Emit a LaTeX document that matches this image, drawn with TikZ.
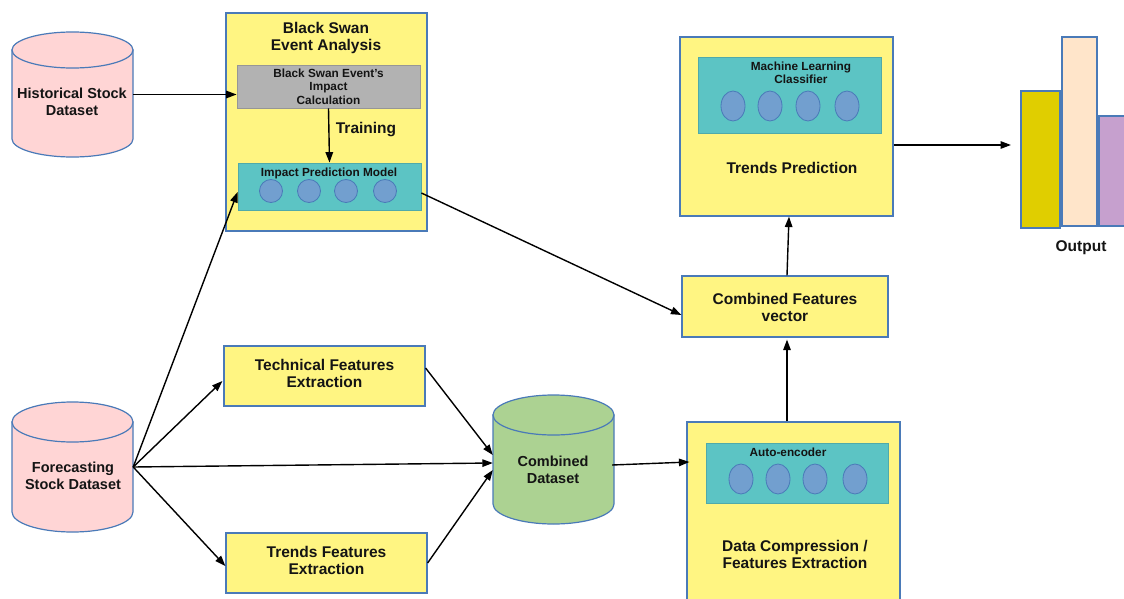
\documentclass[tikz,border=0pt]{standalone}
\usepackage{fontspec}
\setmainfont{Liberation Sans}
\usetikzlibrary{arrows.meta,calc}
\definecolor{boxy}{RGB}{255,245,130}
\definecolor{bord}{RGB}{74,122,184}
\definecolor{tealc}{RGB}{92,196,196}
\definecolor{tealb}{RGB}{80,170,170}
\definecolor{circf}{RGB}{114,159,207}
\definecolor{grayf}{RGB}{178,178,178}
\definecolor{grayb}{RGB}{150,150,150}
\definecolor{pinkf}{RGB}{255,213,213}
\definecolor{greenf}{RGB}{172,210,146}
\definecolor{bary}{RGB}{224,206,0}
\definecolor{barp}{RGB}{255,229,202}
\definecolor{barv}{RGB}{198,160,206}
\definecolor{txt}{RGB}{20,20,20}
\tikzset{
  x=1pt,y=-1pt,
  ybox/.style={draw=bord,line width=1.2pt,fill=boxy,inner sep=0pt},
  tealbox/.style={draw=tealb,line width=0.8pt,fill=tealc,inner sep=0pt},
  graybox/.style={draw=grayb,line width=0.8pt,fill=grayf,inner sep=0pt},
  ghost/.style={inner sep=0pt},
  circ/.style={draw=bord,line width=0.8pt,fill=circf},
  big/.style={text=txt,font=\bfseries\fontsize{15.5}{17}\selectfont,align=center,inner sep=0pt},
  mid/.style={text=txt,font=\bfseries\fontsize{14.5}{16.5}\selectfont,align=center,inner sep=0pt},
  small/.style={text=txt,font=\bfseries\fontsize{11.8}{13.5}\selectfont,align=center,inner sep=0pt},
  arr/.style={line width=1.4pt,-{Triangle[length=10.5pt,width=7.5pt]}},
  cyl/.style={draw=bord,line width=1.2pt},
}
\begin{document}
\begin{tikzpicture}
\clip (0,0) rectangle (1124,599);
\fill[white] (0,0) rectangle (1124,599);

% ---------- cylinders ----------
% historical
\filldraw[cyl,fill=pinkf] (12,50) -- (12,139) arc[start angle=180,end angle=0,x radius=60.5,y radius=18] -- (133,50) -- cycle;
\filldraw[cyl,fill=pinkf] (72.5,50) ellipse[x radius=60.5,y radius=18];
\node[ghost,minimum width=121,minimum height=125] (hist) at (72.5,94.5) {};
\node[mid] (histt) at (72,102) {Historical Stock\\Dataset};
% forecasting
\filldraw[cyl,fill=pinkf] (12,422) -- (12,512) arc[start angle=180,end angle=0,x radius=60.5,y radius=20] -- (133,422) -- cycle;
\filldraw[cyl,fill=pinkf] (72.5,422) ellipse[x radius=60.5,y radius=20];
\node[ghost,minimum width=121,minimum height=130] (fore) at (72.5,467) {};
\node[mid] (foret) at (73,476) {Forecasting\\Stock Dataset};
% combined dataset
\filldraw[cyl,fill=greenf] (493,415) -- (493,504) arc[start angle=180,end angle=0,x radius=60.5,y radius=20] -- (614,415) -- cycle;
\filldraw[cyl,fill=greenf] (553.5,415) ellipse[x radius=60.5,y radius=20];
\node[ghost,minimum width=121,minimum height=129] (comb) at (553.5,459.5) {};
\node[mid] (combt) at (553,470) {Combined\\Dataset};

% ---------- black swan box ----------
\node[ybox,minimum width=201,minimum height=218] (bsa) at (326.5,122) {};
\node[big] (bsat) at (326,37.5) {Black Swan\\Event Analysis};
\node[graybox,minimum width=183,minimum height=43] (gray) at (328.5,86.5) {};
\node[small] (grayt) at (328.5,86.5) {Black Swan Event's\\Impact\\Calculation};
\node[tealbox,minimum width=183,minimum height=47] (ipm) at (329.5,186.5) {};
\node[small] (ipmt) at (329,173) {Impact Prediction Model};
\foreach \cx [count=\i] in {271,309,346,385}
  \node[circ,circle,minimum size=23,inner sep=0pt] (ipmc\i) at (\cx,191) {};
\node[big] (train) at (366,130) {Training};

% ---------- trends prediction box ----------
\node[ybox,minimum width=213,minimum height=179] (tp) at (786.5,126.5) {};
\node[tealbox,minimum width=183,minimum height=76] (mlc) at (789.5,95) {};
\node[small] (mlct) at (801,73) {Machine Learning\\Classifier};
\foreach \cx [count=\i] in {733,770,808,847}
  \filldraw[circ] (\cx,106) ellipse[x radius=12,y radius=15];
\node[big] (tpt) at (792,168) {Trends Prediction};

% ---------- combined features vector ----------
\node[ybox,minimum width=206,minimum height=61] (cfv) at (785,306.5) {};
\node[big] (cfvt) at (785,307) {Combined Features\\vector};

% ---------- data compression ----------
\node[ybox,minimum width=213,minimum height=190] (dc) at (793.5,517) {};
\node[tealbox,minimum width=182,minimum height=60] (ae) at (797,473) {};
\node[small] (aet) at (788,452) {Auto-encoder};
\foreach \cx in {741,778,815,855}
  \filldraw[circ] (\cx,479) ellipse[x radius=12,y radius=15];
\node[big] (dct) at (795,554.5) {Data Compression /\\Features Extraction};

% ---------- feature extraction boxes ----------
\node[ybox,minimum width=201,minimum height=60] (tech) at (324.5,376) {};
\node[big] (techt) at (324.5,373) {Technical Features\\Extraction};
\node[ybox,minimum width=201,minimum height=60] (tfe) at (326.5,563) {};
\node[big] (tfet) at (326.5,560) {Trends Features\\Extraction};

% ---------- output bars ----------
\filldraw[draw=bord,line width=1.2pt,fill=bary] (1021,91) rectangle (1060,228);
\filldraw[draw=bord,line width=1.2pt,fill=barp] (1062,37) rectangle (1097,226);
\filldraw[draw=bord,line width=1.2pt,fill=barv] (1099,116) rectangle (1135,226);
\node[big] (outt) at (1081,248) {Output};
\coordinate (outp) at (1011,145);

% ---------- connectors ----------
\draw[arr] (hist.east) -- (hist.east -| gray.west);
\draw[arr] (gray.south) -- (ipm.north);
\draw[arr] (fore.east) -- ($(ipm.west)+(0,5.5)$);
\draw[arr] (fore.east) -- ($(tech.west)+(-1,5)$);
\draw[arr] (fore.east) -- ($(comb.west)+(0,3.5)$);
\draw[arr] (fore.east) -- ($(tfe.west)+(0,3)$);
\draw[arr] ($(tech.east)+(0,-8)$) -- ($(comb.west)+(0,-4.5)$);
\draw[arr] (tfe.east) -- ($(comb.west)+(0,10.5)$);
\draw[arr] ($(comb.east)+(-2,5.5)$) -- ($(dc.west)+(3,-55)$);
\draw[arr] ($(dc.north)+(-6.5,0)$) -- ($(cfv.south)+(2,2)$);
\draw[arr] ($(ipm.east)+(0,6.5)$) -- ($(cfv.west)+(0,8.5)$);
\draw[arr] ($(cfv.north)+(2,0)$) -- ($(tp.south)+(2.5,0)$);
\draw[arr] ($(tp.east)+(0,18.5)$) -- (outp);
\end{tikzpicture}
\end{document}
